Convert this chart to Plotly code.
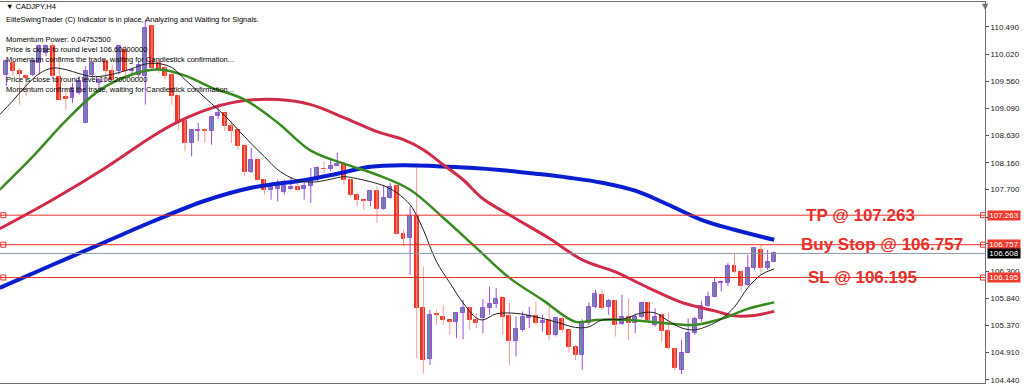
import plotly.graph_objects as go

# ---------------- data (CADJPY H4) ----------------
opens = [109.672,109.872,109.729,109.643,109.672,109.872,110.043,110.157,109.631,109.283,
         109.271,109.357,108.843,109.672,109.530,109.900,109.729,109.729,110.100,109.729,
         109.672,109.643,110.501,109.872,109.786,109.672,109.300,108.871,108.500,108.700,
         108.717,108.700,108.957,109.014,108.786,108.717,108.442,107.996,108.214,107.871,
         107.699,107.711,107.654,107.720,107.745,107.711,107.757,107.899,108.060,108.054,
         108.100,108.145,107.859,107.614,107.528,107.499,107.671,107.373,107.556,107.757,
         106.945,106.870,107.253,105.670,104.800,105.560,105.515,105.469,105.441,105.595,
         105.681,105.469,105.498,105.669,105.738,105.841,105.538,105.115,105.298,105.509,
         105.538,105.412,105.469,105.212,105.481,105.298,104.999,104.869,105.412,105.698,
         105.898,105.687,105.801,105.401,105.526,105.412,105.526,105.755,105.383,105.554,
         105.286,104.965,104.608,104.908,105.240,105.480,105.709,105.869,106.098,106.098,
         106.395,106.298,106.069,106.355,106.658,106.355,106.469]
highs = [109.929,109.900,109.786,109.672,109.929,110.186,110.186,110.215,109.900,109.443,
         109.529,109.643,109.815,109.900,109.620,109.957,109.843,110.186,110.157,109.786,
         109.900,110.615,110.529,109.929,109.843,109.700,109.329,108.900,108.728,108.843,
         108.757,108.957,109.174,109.014,108.871,108.728,108.454,108.414,108.214,107.882,
         107.768,107.871,107.871,107.917,107.842,107.899,108.070,108.100,108.185,108.214,
         108.328,108.185,107.882,107.642,107.528,107.699,107.757,107.785,107.814,107.785,
         107.013,107.413,108.157,106.384,105.641,105.641,105.727,105.469,105.595,105.812,
         105.698,105.584,105.824,106.041,106.013,105.841,105.767,105.526,105.612,105.698,
         105.784,105.555,105.727,105.526,105.526,105.298,105.041,105.481,105.767,105.984,
         105.984,105.824,105.812,105.898,105.841,105.584,105.783,105.783,105.669,105.583,
         105.594,104.983,105.126,105.497,105.526,105.795,105.955,106.201,106.143,106.441,
         106.612,106.326,106.584,106.715,106.755,106.669,106.641]
lows = [109.471,109.643,109.157,109.300,109.643,109.672,109.986,109.614,109.243,109.071,
        109.186,109.329,108.843,109.615,109.420,109.557,109.529,109.672,109.643,109.672,
        109.615,109.157,109.757,109.700,109.586,109.157,108.728,108.357,108.271,108.528,
        108.500,108.471,108.911,108.700,108.500,108.385,107.928,107.985,107.842,107.614,
        107.528,107.499,107.614,107.699,107.671,107.528,107.471,107.842,107.985,108.014,
        108.100,107.785,107.585,107.413,107.356,107.413,107.127,107.356,107.539,106.927,
        106.727,106.241,104.812,104.554,104.697,105.384,105.384,105.212,105.155,105.138,
        105.298,105.326,105.241,105.555,105.669,105.212,104.697,104.840,105.269,105.326,
        105.384,105.269,105.126,105.184,105.241,104.909,104.783,104.612,105.384,105.669,
        105.641,105.555,105.184,105.384,105.126,105.241,105.497,105.412,105.354,105.097,
        104.954,104.611,104.542,104.897,105.212,105.440,105.697,105.857,105.955,106.052,
        106.269,105.955,106.052,106.326,106.241,106.326,106.469]
closes = [109.900,109.729,109.689,109.615,109.900,110.157,110.157,109.643,109.243,109.260,
          109.443,109.557,109.729,109.872,109.580,109.729,109.586,110.157,109.729,109.757,
          109.843,110.472,109.786,109.757,109.643,109.300,108.843,108.500,108.728,108.728,
          108.700,108.946,109.014,108.786,108.700,108.442,107.996,108.214,107.871,107.699,
          107.745,107.757,107.757,107.740,107.699,107.768,107.842,108.071,108.050,108.111,
          108.145,107.871,107.614,107.528,107.511,107.671,107.368,107.556,107.745,106.945,
          106.859,107.253,105.670,104.783,105.555,105.555,105.469,105.441,105.584,105.681,
          105.469,105.424,105.669,105.744,105.830,105.526,105.115,105.309,105.515,105.538,
          105.412,105.458,105.212,105.498,105.298,104.999,104.869,105.412,105.687,105.915,
          105.669,105.801,105.384,105.526,105.412,105.515,105.755,105.469,105.526,105.286,
          104.983,104.640,104.908,105.240,105.480,105.709,105.869,106.098,106.126,106.395,
          106.298,106.052,106.355,106.698,106.355,106.469,106.608]

# moving averages (bar index, price)
ma_fast_idx = [-1,1,3,5,7,9,11,13,15,17,19,21,23,25,27,29,31,33,35,37,39,41,43,45,47,49,51,53,55,
               57,59,61,62,63,65,67,69,71,72,74,77,80,83,86,88,90,93,96,98,100,102,104,106,108,
               110,112,114,116]
ma_fast = [108.985,109.226,109.483,109.689,109.783,109.757,109.689,109.637,109.654,109.706,109.774,
           109.852,109.860,109.792,109.586,109.380,109.174,108.968,108.728,108.488,108.265,108.042,
           107.905,107.836,107.836,107.879,107.922,107.888,107.836,107.768,107.647,107.442,107.253,
           107.013,106.464,106.104,105.761,105.503,105.469,105.572,105.581,105.520,105.435,105.340,
           105.349,105.469,105.478,105.589,105.589,105.452,105.332,105.298,105.366,105.486,105.692,
           106.018,106.241,106.344]
ma_green_idx = [-1,4,9,14,19,23,27,31,36,41,46,51,56,61,66,71,76,81,86,89,94,99,104,108,112,116]
ma_green = [107.699,108.265,108.883,109.397,109.672,109.757,109.654,109.449,109.243,108.848,108.368,
            108.145,107.956,107.699,107.219,106.704,106.189,105.812,105.435,105.469,105.469,105.418,
            105.383,105.486,105.658,105.769]
ma_red_idx = [-1,7,15,22,26,31,36,41,46,51,56,60,63,66,69,72,77,82,87,92,97,102,107,110,113,116]
ma_red = [107.030,107.527,108.076,108.608,108.865,109.097,109.226,109.243,109.157,108.934,108.694,
          108.557,108.385,108.128,107.870,107.545,107.202,106.867,106.498,106.292,106.018,105.769,
          105.623,105.538,105.546,105.615]
ma_blue_idx = [-1,7,15,22,30,37,45,50,55,60,65,70,75,80,85,90,95,100,105,110,116]
ma_blue = [106.018,106.413,106.807,107.150,107.510,107.733,107.862,107.973,108.093,108.119,108.102,
           108.076,108.033,107.973,107.905,107.819,107.682,107.442,107.184,107.013,106.841]

level_names = ["TP", "Buy Stop", "SL"]
level_values = [107.263, 106.757, 106.195]
bid_price = 106.608

tick_values = [110.490,110.020,109.560,109.090,108.630,108.160,107.700,107.230,106.770,106.300,
               105.840,105.370,104.910,104.440]
tick_labels = ["110.490","110.020","109.560","109.090","108.630","108.160","107.700","107.230",
               "106.770","106.300","105.840","105.370","104.910","104.440"]

info_lines = ["EliteSwingTrader (C) Indicator is in place, Analyzing and Waiting for Signals.",
              "",
              "Momentum Power: 0.04752500",
              "Price is close to round level 106.60000000",
              "Momentum confirms the trade, waiting for Candlestick confirmation...",
              "",
              "Price is close to round level 106.20000000",
              "Momentum confirms the trade, waiting for Candlestick confirmation..."]

# ---------------- styling ----------------
BULL_FILL = "#5b9c9c"
BULL_LINE = "#9b4fd8"
BEAR_FILL = "#ef3524"
BEAR_WICK = "#f39a94"
LEVEL_RED = "#e8302a"
X_RANGE = [-0.95, 147.84]
Y_RANGE = [104.388, 110.915]

n = len(opens)
idx = list(range(n))
bull = [i for i in idx if closes[i] >= opens[i]]
bear = [i for i in idx if closes[i] < opens[i]]

def wick_xy(ids):
    xs, ys = [], []
    for i in ids:
        xs += [i, i, None]
        ys += [lows[i], highs[i], None]
    return xs, ys

fig = go.Figure()

wx, wy = wick_xy(bear)
fig.add_trace(go.Scatter(x=wx, y=wy, mode="lines", line=dict(color=BEAR_WICK, width=1),
                         hoverinfo="skip", showlegend=False))
wx, wy = wick_xy(bull)
fig.add_trace(go.Scatter(x=wx, y=wy, mode="lines", line=dict(color=BULL_LINE, width=1),
                         hoverinfo="skip", showlegend=False))

MINB = 0.012
fig.add_trace(go.Bar(x=bear, base=[closes[i] for i in bear],
                     y=[max(opens[i] - closes[i], MINB) for i in bear],
                     width=0.6, marker=dict(color=BEAR_FILL, line=dict(color=BEAR_FILL, width=1)),
                     showlegend=False))
fig.add_trace(go.Bar(x=bull, base=[opens[i] for i in bull],
                     y=[max(closes[i] - opens[i], MINB) for i in bull],
                     width=0.6, marker=dict(color=BULL_FILL, line=dict(color=BULL_LINE, width=1)),
                     showlegend=False))

# moving averages
fig.add_trace(go.Scatter(x=ma_blue_idx, y=ma_blue, mode="lines",
                         line=dict(color="#0a1ecf", width=4, shape="spline"), showlegend=False))
fig.add_trace(go.Scatter(x=ma_red_idx, y=ma_red, mode="lines",
                         line=dict(color="#d02c4a", width=3, shape="spline"), showlegend=False))
fig.add_trace(go.Scatter(x=ma_green_idx, y=ma_green, mode="lines",
                         line=dict(color="#3a8a22", width=2.5, shape="spline"), showlegend=False))
fig.add_trace(go.Scatter(x=ma_fast_idx, y=ma_fast, mode="lines",
                         line=dict(color="#222222", width=1, shape="spline"), showlegend=False))

# horizontal levels
shapes = []
for v in level_values:
    shapes.append(dict(type="line", xref="paper", x0=0, x1=1, yref="y", y0=v, y1=v,
                       line=dict(color=LEVEL_RED, width=1)))
shapes.append(dict(type="line", xref="paper", x0=0, x1=1, yref="y", y0=bid_price, y1=bid_price,
                   line=dict(color="#8a96a4", width=1)))

fig.add_trace(go.Scatter(x=[X_RANGE[0] + 0.5] * len(level_values) + [X_RANGE[1] - 0.3] * len(level_values),
                         y=level_values + level_values, mode="markers",
                         marker=dict(symbol="square-open", size=5, color=LEVEL_RED, line=dict(width=1)),
                         showlegend=False, hoverinfo="skip", cliponaxis=False))

annotations = []
label_x = [0.874, 0.8955, 0.876]
for name, v, lx in zip(level_names, level_values, label_x):
    annotations.append(dict(xref="paper", yref="y", x=lx, y=v, text=f"<b>{name} @ {v:.3f}</b>",
                            showarrow=False, xanchor="center", yanchor="middle",
                            font=dict(family="Liberation Sans, Arial", size=17, color=LEVEL_RED)))
# price tags on the axis
for v in level_values:
    annotations.append(dict(xref="paper", yref="y", x=1, xshift=1.5, y=v, text=f"{v:.3f}",
                            showarrow=False, xanchor="left", yanchor="middle", width=32, height=9,
                            bgcolor="#ef3a2e", borderpad=0,
                            font=dict(family="Liberation Sans, Arial", size=8, color="white")))
annotations.append(dict(xref="paper", yref="y", x=1, xshift=1.5, y=bid_price, text=f"{bid_price:.3f}",
                        showarrow=False, xanchor="left", yanchor="middle", width=32, height=9,
                        bgcolor="#000000", borderpad=0,
                        font=dict(family="Liberation Sans, Arial", size=8, color="white")))

# header texts
H = 381.0
def py(pix):
    return 1 - (pix - 2) / H
annotations.append(dict(xref="paper", yref="paper", x=4 / 985, y=py(6), text="\u25bc CADJPY,H4",
                        showarrow=False, xanchor="left", yanchor="middle",
                        font=dict(family="Liberation Sans, Arial", size=7.5, color="#000000")))
for k, line in enumerate(info_lines):
    if not line:
        continue
    annotations.append(dict(xref="paper", yref="paper", x=4 / 985, y=py(19.5 + 10 * k), text=line,
                            showarrow=False, xanchor="left", yanchor="middle",
                            font=dict(family="Liberation Sans, Arial", size=7.5, color="#000000")))
annotations.append(dict(xref="paper", yref="paper", x=1, y=1, text="\u25bc", showarrow=False,
                        xanchor="center", yanchor="top", yshift=2,
                        font=dict(family="DejaVu Sans", size=8, color="#707070")))

fig.update_layout(
    width=1024, height=386,
    margin=dict(l=0, r=39, t=2, b=3),
    paper_bgcolor="white", plot_bgcolor="white",
    barmode="overlay", bargap=0,
    showlegend=False,
    shapes=shapes, annotations=annotations,
    xaxis=dict(range=X_RANGE, showticklabels=False, showgrid=False, zeroline=False,
               showline=True, mirror=True, linecolor="#707070", linewidth=1, ticks=""),
    yaxis=dict(range=Y_RANGE, side="right", tickvals=tick_values, ticktext=tick_labels,
               showgrid=False, zeroline=False, showline=True, mirror=True,
               linecolor="#707070", linewidth=1, ticks="outside", ticklen=3,
               tickcolor="#505050", tickfont=dict(family="Liberation Sans, Arial", size=8,
                                                  color="#202020")),
)

fig.write_html("out.html", config={"displayModeBar": False},
               post_script="document.body.style.margin='0';")
